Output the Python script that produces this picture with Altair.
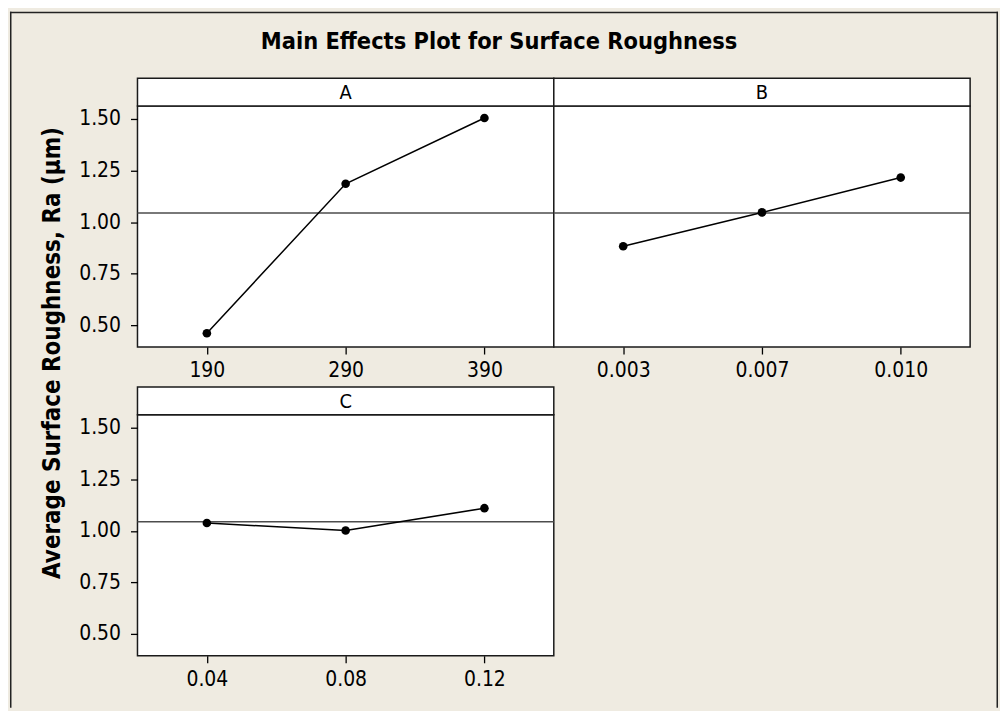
import altair as alt
import pandas as pd

# ---- data ----
a_levels = ["190", "290", "390"]
a_means = [0.461, 1.186, 1.505]
b_levels = ["0.003", "0.007", "0.010"]
b_means = [0.883, 1.047, 1.216]
c_levels = ["0.04", "0.08", "0.12"]
c_means = [1.038, 1.002, 1.110]
grand_mean = 1.044
y_ticks = [0.50, 0.75, 1.00, 1.25, 1.50]
y_domain = [0.394, 1.563]

TITLE = "Main Effects Plot for Surface Roughness"
YTITLE = "Average Surface Roughness, Ra (μm)"

FONT = "DejaVu Sans Condensed"
BG = "#EFEBE1"
W = 418
PH = 242
SH = 28

one = pd.DataFrame({"k": [0]})


def plot(letter, levels, means, show_y, extras=None):
    df = pd.DataFrame({"level": levels, "ra": means})
    yscale = alt.Scale(domain=y_domain, nice=False, zero=False)
    if show_y:
        yaxis = alt.Axis(values=y_ticks, format=".2f", title=None, grid=False)
    else:
        yaxis = None
    x = alt.X("level:O", sort=levels,
              scale=alt.Scale(type="point", domain=levels, padding=0.5),
              axis=alt.Axis(title=None, labelAngle=0, grid=False))
    y = alt.Y("ra:Q", scale=yscale, axis=yaxis)
    base = alt.Chart(df)
    mean = alt.Chart(pd.DataFrame({"m": [grand_mean]})).mark_rule(
        color="#4d4d4d", strokeWidth=1.6
    ).encode(y=alt.Y("m:Q", scale=yscale, axis=yaxis))
    line = base.mark_line(color="black", strokeWidth=1.5).encode(x=x, y=y)
    pts = base.mark_circle(size=75, color="black", opacity=1).encode(x=x, y=y)
    # strip header box above the plot area
    strip_box = alt.Chart(one).mark_rect(
        fill="white", stroke="#1a1a1a", strokeWidth=1.5
    ).encode(x=alt.value(0), x2=alt.value(W), y=alt.value(-SH), y2=alt.value(0))
    strip_txt = alt.Chart(pd.DataFrame({"t": [letter]})).mark_text(
        font=FONT, fontSize=20, color="black", baseline="middle", align="center"
    ).encode(text="t:N", x=alt.value(W / 2), y=alt.value(-SH / 2 + 1))
    layers = [mean, line, pts, strip_box, strip_txt]
    if extras:
        layers += extras
    return alt.layer(*layers).properties(width=W, height=PH)


frame_col = "#222222"
# outer frame + titles, placed in pixels relative to panel A's plot area
left_rule = alt.Chart(one).mark_rule(color=frame_col, strokeWidth=1.5).encode(
    x=alt.value(-127.25), y=alt.value(-94.75), y2=alt.value(604.25))
top_rule = alt.Chart(one).mark_rule(color=frame_col, strokeWidth=1.5).encode(
    x=alt.value(-128), x2=alt.value(864), y=alt.value(-94))
right_rule = alt.Chart(one).mark_rule(color=frame_col, strokeWidth=1.5).encode(
    x=alt.value(863.25), y=alt.value(-94.75), y2=alt.value(604.25))
title_txt = alt.Chart(pd.DataFrame({"t": [TITLE]})).mark_text(
    font=FONT, fontSize=23.5, fontWeight="bold", color="black",
    align="center", baseline="alphabetic"
).encode(text="t:N", x=alt.value(363), y=alt.value(-57))
ytitle_txt = alt.Chart(pd.DataFrame({"t": [YTITLE]})).mark_text(
    font=FONT, fontSize=24, fontWeight="bold", color="black",
    align="center", baseline="alphabetic", angle=270
).encode(text="t:N", x=alt.value(-78), y=alt.value(248))

extras_a = [left_rule, top_rule, right_rule, title_txt, ytitle_txt]

panel_a = plot("A", a_levels, a_means, True, extras_a)
panel_b = plot("B", b_levels, b_means, False)
panel_c = plot("C", c_levels, c_means, True)

chart = alt.concat(
    panel_a, panel_b, panel_c, columns=2,
    spacing={"row": 68, "column": 0}, bounds="flush"
).resolve_scale(
    x="independent", y="independent"
).properties(
    padding=0, background=BG
).configure_view(
    fill="white", stroke="#1a1a1a", strokeWidth=1.5
).configure_axis(
    labelFont=FONT, labelFontSize=21, labelColor="black",
    tickColor="black", tickSize=7, tickWidth=1.3,
    domain=False, labelPadding=6
).configure_axisY(
    labelPadding=10
)

chart.save("out.html", embed_options={"renderer": "svg", "actions": False})
